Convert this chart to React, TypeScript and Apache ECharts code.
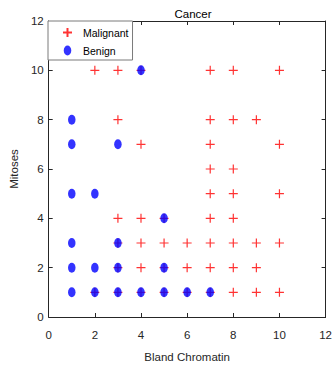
import React, { useEffect, useRef } from "react";
import * as echarts from "echarts";

const xTicks = [0, 2, 4, 6, 8, 10, 12];
const yTicks = [0, 2, 4, 6, 8, 10, 12];

const malignantX = [2, 3, 4, 7, 8, 10, 3, 7, 8, 9, 4, 7, 10, 7, 8, 7, 8, 10, 3, 4, 5, 7, 8, 3, 4, 5, 6, 7, 8, 9, 10, 3, 4, 5, 6, 7, 8, 9, 2, 3, 4, 5, 6, 7, 8, 9, 10];
const malignantY = [10, 10, 10, 10, 10, 10, 8, 8, 8, 8, 7, 7, 7, 6, 6, 5, 5, 5, 4, 4, 4, 4, 4, 3, 3, 3, 3, 3, 3, 3, 3, 2, 2, 2, 2, 2, 2, 2, 1, 1, 1, 1, 1, 1, 1, 1, 1];

const benignX = [4, 1, 1, 3, 1, 2, 5, 1, 3, 1, 2, 3, 5, 1, 2, 3, 4, 5, 6, 7];
const benignY = [10, 8, 7, 7, 5, 5, 4, 3, 3, 2, 2, 2, 2, 1, 1, 1, 1, 1, 1, 1];

const FONT = "'Liberation Sans', Arial, Helvetica, sans-serif";
const INK = "#262626";

export default function App() {
  const ref = useRef<HTMLDivElement>(null);
  useEffect(() => {
    if (!ref.current) return;
    const chart = echarts.init(ref.current, undefined, { renderer: "svg" });
    const plus = "path://M0,4.5 L9,4.5 M4.5,0 L4.5,9";
    const ell = "path://M0,5 A3.75,5 0 1,1 7.5,5 A3.75,5 0 1,1 0,5 Z";
    const axisCommon = {
      min: 0,
      max: 12,
      interval: 2,
      axisLine: { show: true, onZero: false, lineStyle: { color: INK, width: 1 } },
      axisTick: { show: true, inside: true, length: 4, lineStyle: { color: INK } },
      splitLine: { show: false },
    };
    chart.setOption({
      animation: false,
      backgroundColor: "#ffffff",
      title: {
        text: "Cancer",
        left: 188,
        top: 3,
        textAlign: "center",
        textStyle: { fontFamily: FONT, fontSize: 11.5, fontWeight: "normal", color: "#000" },
      },
      grid: { left: 48, right: 7, top: 21, bottom: 52, containLabel: false },
      legend: {
        orient: "vertical",
        left: 48,
        top: 21,
        padding: [6, 4, 4, 14],
        itemGap: 7,
        itemWidth: 9,
        itemHeight: 10,
        backgroundColor: "#ffffff",
        borderColor: "#7a7a7a",
        borderWidth: 1,
        textStyle: { fontFamily: FONT, fontSize: 10.5, color: "#000", padding: [0, 0, 0, 6] },
        data: ["Malignant", "Benign"],
      },
      xAxis: [
        {
          ...axisCommon,
          type: "value",
          position: "bottom",
          name: "Bland Chromatin",
          nameLocation: "middle",
          nameGap: 34,
          nameTextStyle: { fontFamily: FONT, fontSize: 11.5, color: INK },
          axisLabel: {
            fontFamily: FONT,
            fontSize: 11.5,
            color: INK,
            margin: 12,
            formatter: (v: number) => (xTicks.includes(v) ? String(v) : ""),
          },
        },
        {
          ...axisCommon,
          type: "value",
          position: "top",
          axisLabel: { show: false },
        },
      ],
      yAxis: [
        {
          ...axisCommon,
          type: "value",
          position: "left",
          name: "Mitoses",
          nameLocation: "middle",
          nameGap: 22,
          nameTextStyle: { fontFamily: FONT, fontSize: 11.5, color: INK },
          axisLabel: {
            fontFamily: FONT,
            fontSize: 11.5,
            color: INK,
            margin: 5,
            formatter: (v: number) => (yTicks.includes(v) ? String(v) : ""),
          },
        },
        {
          ...axisCommon,
          type: "value",
          position: "right",
          axisLabel: { show: false },
        },
      ],
      series: [
        {
          name: "Malignant",
          type: "scatter",
          xAxisIndex: 0,
          yAxisIndex: 0,
          symbol: plus,
          symbolSize: 9,
          itemStyle: { color: "#ff0000", borderColor: "#ff0000", borderWidth: 1.2 },
          data: malignantX.map((x, i) => [x, malignantY[i]]),
          z: 2,
        },
        {
          name: "Benign",
          type: "scatter",
          xAxisIndex: 0,
          yAxisIndex: 0,
          symbol: ell,
          symbolSize: [7.5, 10],
          itemStyle: { color: "#0000ff" },
          data: benignX.map((x, i) => [x, benignY[i]]),
          z: 3,
        },
      ],
    });
    return () => chart.dispose();
  }, []);
  return (
    <div
      ref={ref}
      style={{ position: "fixed", left: 0, top: 0, width: 335, height: 369, background: "#fff" }}
    />
  );
}
